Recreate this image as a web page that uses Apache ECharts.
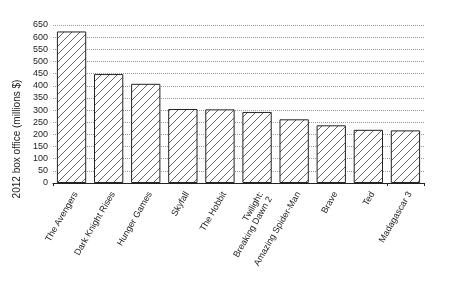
<!DOCTYPE html>
<html>
<head>
<meta charset="utf-8">
<script src="https://cdn.jsdelivr.net/npm/echarts@6/dist/echarts.min.js"></script>
<style>html,body{margin:0;padding:0;background:#fff}#c{width:450px;height:286px}</style>
</head>
<body>
<div id="c"></div>
<script>
const categories = ["The Avengers", "Dark Knight Rises", "Hunger Games", "Skyfall", "The Hobbit", "Twilight:\nBreaking Dawn 2", "Amazing Spider-Man", "Brave", "Ted", "Madagascar 3"];
const boxOffice = [623.4, 448.1, 408.0, 304.4, 303.0, 292.3, 262.0, 237.3, 218.8, 216.4];
const yTicks = [0, 50, 100, 150, 200, 250, 300, 350, 400, 450, 500, 550, 600, 650];
const yTitle = "2012 box office (millions $)";

function hatch() {
  const c = document.createElement('canvas');
  c.width = 8; c.height = 8;
  const g = c.getContext('2d');
  g.fillStyle = '#fff'; g.fillRect(0, 0, 8, 8);
  g.strokeStyle = '#555'; g.lineWidth = 0.9;
  g.beginPath();
  g.moveTo(-1, 9); g.lineTo(9, -1);
  g.moveTo(-1, 1); g.lineTo(1, -1);
  g.moveTo(7, 9); g.lineTo(9, 7);
  g.stroke();
  return c;
}

const chart = echarts.init(document.getElementById('c'), null, {renderer: 'canvas'});
const font = 'Liberation Sans, Arial, sans-serif';
chart.setOption({
  animation: false,
  grid: {left: 53, right: 26, top: 25, bottom: 103},
  xAxis: {
    type: 'category',
    data: categories,
    axisLine: {lineStyle: {color: '#222', width: 1}},
    axisTick: {show: true, length: 3, lineStyle: {color: '#222'}, interval: function (i) { return i === 0 || i === categories.length - 1; }},
    axisLabel: {interval: 0, rotate: 60, fontSize: 9, margin: 7, color: '#222', fontFamily: font, lineHeight: 10, verticalAlign: 'top'}
  },
  yAxis: {
    type: 'value',
    min: yTicks[0], max: yTicks[yTicks.length - 1], interval: yTicks[1] - yTicks[0],
    name: yTitle, nameLocation: 'middle', nameGap: 30, nameRotate: 90,
    nameTextStyle: {fontSize: 10, color: '#222', fontFamily: font, padding: [0, 70, 0, 0]},
    axisLine: {show: false},
    axisTick: {show: false},
    axisLabel: {fontSize: 9, color: '#222', margin: 5, fontFamily: font},
    splitLine: {lineStyle: {color: '#999', type: [1, 1], width: 1}}
  },
  series: [{
    type: 'bar',
    data: boxOffice,
    barCategoryGap: '21%',
    itemStyle: {color: {image: hatch(), repeat: 'repeat'}, borderColor: '#222', borderWidth: 1}
  }]
});
</script>
</body>
</html>
